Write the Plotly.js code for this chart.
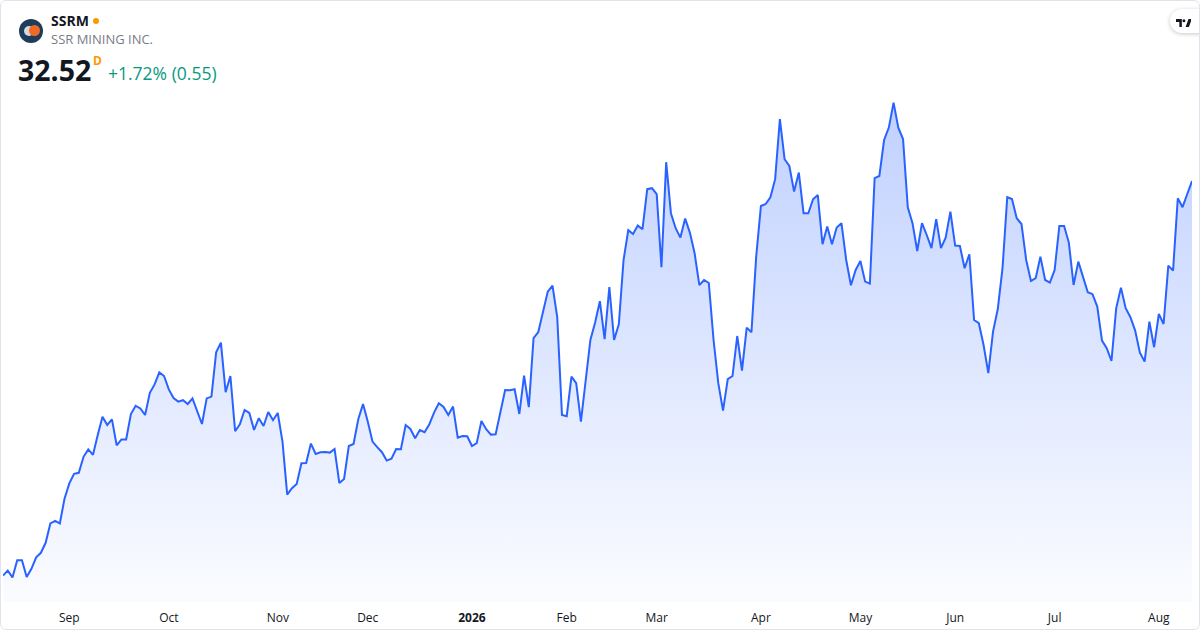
<!DOCTYPE html>
<html>
<head>
<meta charset="utf-8">
<script src="https://cdn.plot.ly/plotly-3.0.1.min.js"></script>
<style>
html,body{margin:0;padding:0;background:#ffffff;}
#frame{position:relative;width:1200px;height:630px;overflow:hidden;font-family:"Open Sans",sans-serif;background:#fff;}
#chart{position:absolute;left:0;top:0;width:1200px;height:630px;}
#border{position:absolute;left:0;top:0;width:1200px;height:630px;box-sizing:border-box;border:1px solid #e0e3eb;border-radius:6px;pointer-events:none;}
.t{position:absolute;white-space:nowrap;line-height:1;}
#logo{position:absolute;left:18.5px;top:18.5px;width:24px;height:24px;border-radius:50%;background:#1f3c5a;overflow:hidden;}
#logo .g{position:absolute;left:5px;top:7px;width:10px;height:10px;border-radius:50%;background:#d5d8de;}
#logo .o{position:absolute;left:10px;top:6.5px;width:11px;height:11px;border-radius:50%;background:#f06a25;}
#dot{position:absolute;left:93px;top:18px;width:6px;height:6px;border-radius:50%;background:#ff9800;}
#tv{position:absolute;left:1170px;top:9px;width:44px;height:24px;border-radius:12px;background:#fff;box-shadow:0 1px 4px rgba(0,0,0,0.22);}
#tv svg{position:absolute;left:6px;top:10px;}
</style>
</head>
<body>
<div id="frame">
  <div id="chart"></div>
  <div id="logo"><div class="g"></div><div class="o"></div></div>
  <div class="t" id="sym" style="left:51px;top:13.6px;font-size:14px;font-weight:700;color:#131722;">SSRM</div>
  <div id="dot"></div>
  <div class="t" id="name" style="left:51px;top:33.2px;font-size:13px;color:#787b86;">SSR MINING INC.</div>
  <div class="t" id="price" style="left:18px;top:56px;font-size:28.5px;font-weight:700;color:#131722;">32.52</div>
  <div class="t" id="res" style="left:93px;top:55.2px;font-size:12px;font-weight:700;color:#ff9800;">D</div>
  <div class="t" id="chg" style="left:108px;top:65.3px;font-size:17.5px;color:#089981;">+1.72% (0.55)</div>
  <div id="tv"><svg width="15" height="8" viewBox="0 0 36 19"><path d="M14 19H8V7H0V0h14z M31 19h-8l7-19h8z" fill="#131722"/><circle cx="19" cy="4" r="3.6" fill="#131722"/></svg></div>
  <div id="border"></div>
</div>
<script>
// ---- data ----
const startDate = '2025-08-12';
const endDate = '2026-08-12';
const holidays = ['2025-09-01','2025-11-27','2025-12-25','2026-01-01','2026-01-19',
                  '2026-02-16','2026-04-03','2026-05-25','2026-06-19','2026-07-03'];
const closes = [
 12.79,13.04,12.70,13.56,13.56,12.72,13.13,13.70,13.93,14.43,
 15.40,15.53,15.40,16.65,17.40,17.88,17.93,18.73,19.10,18.83,
 19.82,20.73,20.32,20.60,19.30,19.60,19.60,20.87,21.28,21.15,
 20.82,21.93,22.35,22.95,22.77,22.10,21.67,21.49,21.56,21.37,
 21.65,21.02,20.37,21.65,21.74,23.96,24.44,21.96,22.77,20.01,
 20.36,21.07,20.92,20.07,20.66,20.27,20.97,20.56,20.92,19.49,
 16.84,17.16,17.37,18.41,18.42,19.39,18.87,18.96,18.97,18.94,
 19.12,17.42,17.62,19.27,19.37,20.61,21.37,20.49,19.49,19.21,
 18.96,18.54,18.64,19.12,19.11,20.32,20.12,19.66,20.07,19.96,
 20.36,20.94,21.41,21.22,20.82,21.24,19.69,19.77,19.76,19.27,
 19.41,20.52,20.11,19.84,19.86,20.96,22.07,22.06,22.11,20.87,
 22.79,21.21,24.66,24.97,25.94,26.99,27.29,25.71,20.82,20.76,
 22.74,22.41,20.49,22.57,24.57,25.45,26.51,24.61,27.21,24.57,
 25.36,28.57,30.06,29.87,30.29,30.11,32.11,32.16,31.86,28.21,
 33.46,30.91,30.16,29.69,30.64,29.94,28.91,27.31,27.57,27.42,
 24.57,22.41,21.04,22.61,22.77,24.77,23.04,25.19,24.96,28.74,
 31.27,31.37,31.71,32.61,35.62,33.61,33.27,31.99,32.94,30.91,
 30.91,31.61,31.82,29.36,30.24,29.36,30.19,30.41,28.57,27.31,
 28.07,28.52,27.49,27.39,32.66,32.77,34.57,35.19,36.44,35.19,
 34.62,31.21,30.41,29.02,30.41,29.82,29.16,30.61,29.16,29.69,
 30.99,29.29,29.27,28.16,28.86,25.57,25.41,24.32,22.91,24.99,
 26.12,28.16,31.71,31.62,30.66,30.37,28.57,27.52,27.66,28.74,
 27.57,27.44,28.07,30.27,30.27,29.44,27.32,28.49,27.74,26.96,
 26.86,26.24,24.54,24.16,23.52,26.16,27.19,26.16,25.71,25.04,
 23.94,23.49,25.49,24.21,25.87,25.37,28.29,28.04,31.66,31.21,
 31.87,32.52
];
const tickDates = ['2025-09-02','2025-10-01','2025-11-03','2025-12-01','2026-01-02','2026-02-02',
                   '2026-03-02','2026-04-01','2026-05-01','2026-06-01','2026-07-01','2026-08-03'];
const tickLabels = ['Sep','Oct','Nov','Dec','<b>2026</b>','Feb','Mar','Apr','May','Jun','Jul','Aug'];

function tradingDays(s, e, hol) {
  const out = [];
  const d = new Date(s + 'T00:00:00Z');
  const end = new Date(e + 'T00:00:00Z');
  while (d <= end) {
    const w = d.getUTCDay();
    const iso = d.toISOString().slice(0, 10);
    if (w !== 0 && w !== 6 && !hol.includes(iso)) out.push(iso);
    d.setUTCDate(d.getUTCDate() + 1);
  }
  return out;
}
const dates = tradingDays(startDate, endDate, holidays).slice(0, closes.length);

const yLow = 11.47, yHigh = 37.07;

const trace = {
  x: dates,
  y: closes,
  type: 'scatter',
  mode: 'lines',
  line: {color: '#2962ff', width: 2},
  fill: 'tozeroy',
  fillgradient: {
    type: 'vertical',
    start: yLow,
    stop: yHigh,
    colorscale: [[0, 'rgba(41,98,255,0.02)'], [1, 'rgba(41,98,255,0.30)']]
  },
  hoverinfo: 'skip'
};

const layout = {
  width: 1200,
  height: 630,
  margin: {l: 3, r: 8, t: 90, b: 28},
  paper_bgcolor: 'rgba(0,0,0,0)',
  plot_bgcolor: 'rgba(0,0,0,0)',
  showlegend: false,
  xaxis: {
    type: 'category',
    range: [0, dates.length - 1],
    tickmode: 'array',
    tickvals: tickDates,
    ticktext: tickLabels,
    showgrid: false, zeroline: false, showline: false,
    ticks: '',
    ticklabelstandoff: 7,
    tickfont: {family: 'Open Sans, sans-serif', size: 12, color: '#131722'},
    fixedrange: true
  },
  yaxis: {
    range: [yLow, yHigh],
    visible: false,
    showgrid: false, zeroline: false,
    fixedrange: true
  }
};

Plotly.newPlot('chart', [trace], layout, {displayModeBar: false, staticPlot: true});
</script>
</body>
</html>
